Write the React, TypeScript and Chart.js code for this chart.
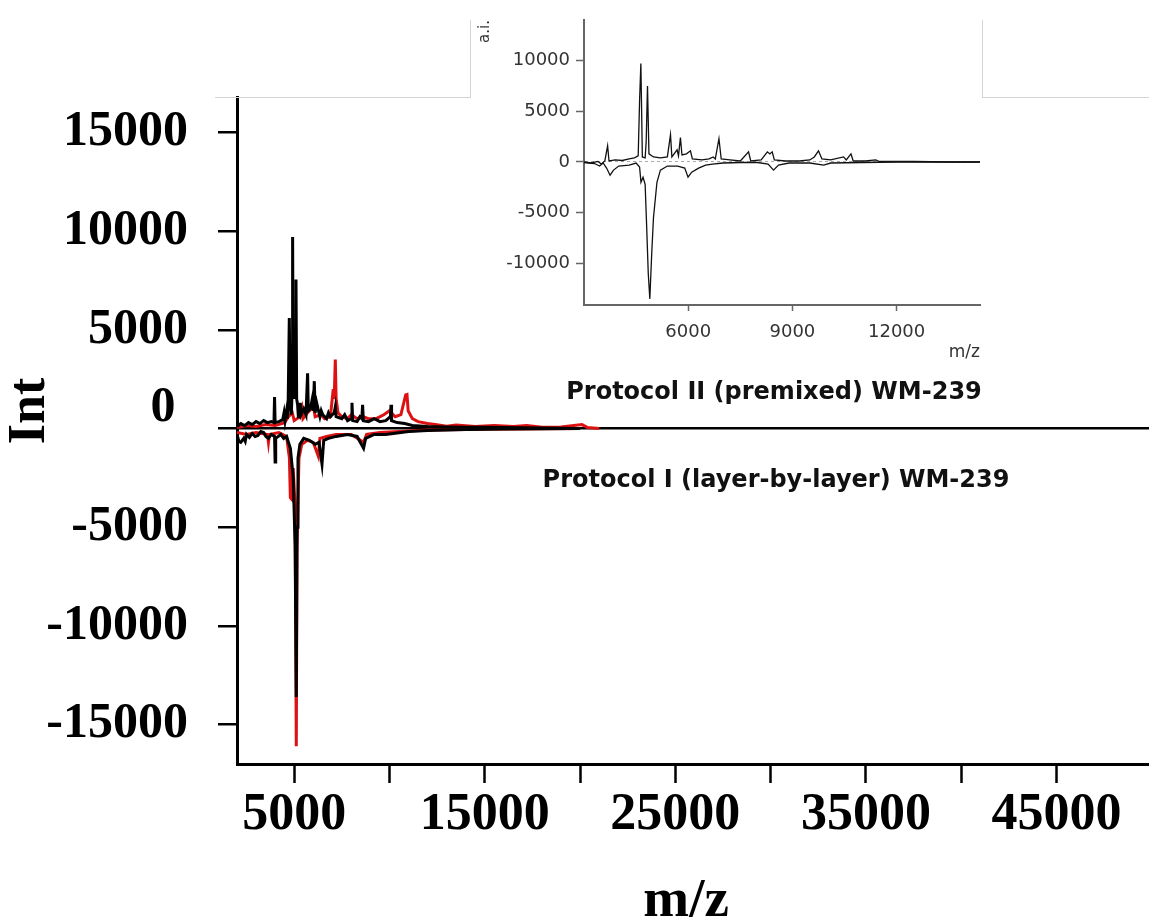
import React, { useEffect, useRef } from 'react';
import { Chart, registerables } from 'chart.js';

Chart.register(...registerables);

// ---------- tick values ----------
const mainYTicks = [-15000, -10000, -5000, 0, 5000, 10000, 15000];
const mainXTicks = [5000, 10000, 15000, 20000, 25000, 30000, 35000, 40000, 45000];
const mainXLabels = [5000, 15000, 25000, 35000, 45000];
const insetYTicks = [-10000, -5000, 0, 5000, 10000];
const insetXTicks = [6000, 9000, 12000];

// ---------- main spectra: [m/z, intensity] ----------
const blackII: [number, number][] = [
  [2000, 100], [2200, 250], [2400, 150], [2600, 300], [2800, 200], [3000, 350], [3200, 250], [3400, 400],
  [3600, 300], [3800, 350], [3940, 300], [3970, 1600], [4000, 300], [4200, 350], [4400, 450], [4470, 800],
  [4520, 400], [4600, 900], [4640, 500], [4680, 1000], [4744, 5600], [4790, 1500], [4850, 700], [4895, 2000],
  [4918, 9700], [4945, 3000], [5000, 1500], [5060, 2000], [5095, 7550], [5130, 1500], [5180, 1200], [5220, 600],
  [5250, 800], [5320, 1300], [5360, 700], [5400, 700], [5500, 1000], [5620, 700], [5704, 2800], [5740, 900],
  [5850, 1000], [5950, 1500], [6000, 900], [6056, 2400], [6100, 800], [6180, 1300], [6250, 1000], [6350, 600],
  [6420, 900], [6500, 700], [6700, 500], [6800, 800], [6900, 600], [7100, 800], [7158, 1100], [7200, 600],
  [7500, 500], [7650, 700], [7800, 400], [8000, 500], [8033, 1300], [8070, 400], [8300, 350], [8450, 600],
  [8550, 500], [8590, 1200], [8630, 400], [8900, 350], [9200, 500], [9500, 350], [9800, 400], [10050, 600],
  [10080, 1200], [10110, 400], [10400, 300], [10800, 250], [11200, 150], [12000, 100], [13000, 80], [14000, 60],
  [15000, 60], [16000, 50], [17000, 40], [18000, 30], [20000, 0],
];

const redII: [number, number][] = [
  [2000, 50], [2500, 150], [3000, 100], [3500, 200], [4000, 150], [4500, 300], [4700, 600], [4900, 800],
  [5000, 400], [5300, 600], [5410, 1000], [5460, 500], [5700, 800], [5900, 1000], [6000, 1200], [6100, 600],
  [6400, 700], [6600, 500], [6900, 600], [7050, 2000], [7100, 1500], [7158, 3500], [7200, 1500], [7300, 800],
  [7500, 600], [7800, 500], [8000, 700], [8300, 500], [8600, 600], [8900, 500], [9300, 500], [9700, 700],
  [10000, 900], [10300, 600], [10600, 700], [10850, 1700], [10919, 1720], [10980, 900], [11200, 500], [11500, 350],
  [12000, 250], [12400, 200], [13000, 120], [13500, 180], [14500, 100], [15500, 150], [16500, 100], [17200, 150],
  [18000, 60], [19000, 80], [20100, 200], [20400, 50], [21000, 0],
];

const blackI: [number, number][] = [
  [2000, -300], [2100, -650], [2200, -700], [2350, -500], [2430, -650], [2500, -300], [2650, -450], [2800, -250],
  [2950, -400], [3100, -350], [3250, -150], [3400, -200], [3520, -400], [3650, -500], [3800, -300], [3970, -400],
  [4000, -1700], [4030, -500], [4300, -300], [4450, -500], [4600, -400], [4800, -1000], [4950, -2500], [5050, -6000],
  [5110, -13600], [5150, -5000], [5200, -1500], [5300, -800], [5500, -500], [5800, -600], [6100, -800], [6300, -700],
  [6460, -1800], [6550, -600], [6800, -500], [7200, -400], [7800, -300], [8300, -400], [8640, -1000], [8750, -500],
  [9200, -300], [9800, -300], [10200, -250], [11000, -150], [12000, -100], [14000, -50], [16000, -30], [20000, 0],
];

const redI: [number, number][] = [
  [2000, -200], [2500, -300], [3000, -200], [3600, -300], [3650, -700], [3700, -300], [4200, -200], [4600, -400],
  [4750, -1500], [4800, -3500], [4885, -3600], [4950, -2000], [5050, -4000], [5110, -16100], [5150, -6000], [5250, -1500],
  [5400, -800], [5700, -600], [6000, -700], [6265, -1400], [6350, -500], [6700, -400], [7200, -300], [8000, -300],
  [8640, -700], [8800, -300], [9500, -200], [10500, -150], [12000, -80], [15000, -40], [20000, 0],
];

// ---------- inset spectra ----------
const insetII: [number, number][] = [
  [3000, 0], [3200, -100], [3400, 50], [3500, -200], [3600, 100], [3680, 1600], [3720, 100], [3900, 200],
  [4100, 150], [4300, 300], [4450, 400], [4560, 600], [4600, 6000], [4637, 9700], [4680, 500], [4760, 400],
  [4790, 2000], [4828, 7500], [4870, 800], [5000, 500], [5200, 400], [5400, 500], [5490, 2700], [5530, 500],
  [5680, 1200], [5720, 600], [5776, 2400], [5820, 700], [5950, 800], [6064, 1100], [6120, 300], [6400, 200],
  [6600, 300], [6720, 500], [6780, 300], [6885, 2300], [6950, 300], [7200, 200], [7500, 100], [7737, 1000],
  [7800, 100], [8100, 200], [8280, 1000], [8350, 800], [8418, 1000], [8480, 200], [8800, 100], [9200, 100],
  [9500, 200], [9630, 500], [9750, 1100], [9850, 300], [10100, 200], [10473, 500], [10550, 200], [10686, 800],
  [10750, 100], [11100, 100], [11400, 200], [11500, 50], [12500, 50], [13500, 0], [14400, 0],
];

const insetI: [number, number][] = [
  [3000, -50], [3300, -150], [3450, -400], [3550, -100], [3650, -600], [3750, -1300], [3850, -800], [4000, -400],
  [4300, -300], [4500, -100], [4600, -500], [4640, -2000], [4700, -1500], [4760, -2200], [4800, -6000], [4850, -11000],
  [4895, -13500], [4950, -9000], [5000, -5500], [5100, -2000], [5200, -800], [5400, -400], [5700, -400], [5900, -600],
  [5995, -1500], [6100, -1000], [6300, -600], [6500, -300], [6700, -200], [7000, -100], [7500, -50], [8000, -50],
  [8300, -200], [8455, -800], [8600, -300], [8900, -100], [9500, -100], [9900, -300], [10100, -100], [11000, -50],
  [12000, 0], [14400, 0],
];

const SERIF = '"Liberation Serif", "Times New Roman", serif';
const SANS = '"DejaVu Sans", "Liberation Sans", sans-serif';

const toPts = (arr: [number, number][]) => arr.map(([x, y]) => ({ x, y }));

function MainChart() {
  const ref = useRef<HTMLCanvasElement | null>(null);
  useEffect(() => {
    if (!ref.current) return;
    const chart = new Chart(ref.current, {
      type: 'line',
      data: {
        datasets: [
          { data: toPts(blackII), borderColor: '#000', borderWidth: 3 },
          { data: toPts(blackI), borderColor: '#000', borderWidth: 3 },
          { data: toPts(redII), borderColor: '#dd1111', borderWidth: 3 },
          { data: toPts(redI), borderColor: '#dd1111', borderWidth: 3 },
        ],
      },
      options: {
        animation: false,
        responsive: false,
        maintainAspectRatio: false,
        layout: { padding: { top: 97, left: 0, right: 0, bottom: 0 } },
        plugins: { legend: { display: false }, tooltip: { enabled: false } },
        elements: { point: { radius: 0 }, line: { tension: 0 } },
        scales: {
          x: {
            type: 'linear',
            min: 2000,
            max: 49850,
            afterBuildTicks: (s: any) => {
              s.ticks = mainXTicks.map((v) => ({ value: v }));
            },
            afterFit: (s: any) => {
              s.height = 158;
            },
            ticks: {
              autoSkip: false,
              maxRotation: 0,
              minRotation: 0,
              padding: 7,
              color: '#000',
              font: { family: SERIF, size: 52, weight: 'bold', lineHeight: 1 },
              callback: (v: any) => (mainXLabels.includes(Number(v)) ? String(v) : ''),
            },
            grid: { drawOnChartArea: false, drawTicks: true, tickLength: 19, tickColor: '#000', tickWidth: 2.5 },
            border: { display: true, color: '#000', width: 3 },
            title: {
              display: true,
              text: 'm/z ',
              color: '#000',
              font: { family: SERIF, size: 55, weight: 'bold', lineHeight: 0.7 },
              padding: { top: 0, bottom: 1 },
            },
          },
          y: {
            type: 'linear',
            min: -17000,
            max: 16800,
            afterBuildTicks: (s: any) => {
              s.ticks = mainYTicks.map((v) => ({ value: v }));
            },
            afterFit: (s: any) => {
              s.width = 237;
            },
            ticks: {
              padding: 30,
              color: '#000',
              font: (ctx: any) =>
                ctx.tick && ctx.tick.value === 0
                  ? { family: SERIF, size: 50, weight: 'bold', lineHeight: 0.8 }
                  : { family: SERIF, size: 50, weight: 'bold', lineHeight: 1.2 },
              callback: (v: any) => (Number(v) === 0 ? ['0 ', ''] : String(v)),
            },
            grid: {
              drawOnChartArea: true,
              color: (ctx: any) => (ctx.tick && ctx.tick.value === 0 ? '#000' : 'rgba(0,0,0,0)'),
              lineWidth: 2.5,
              tickLength: 19,
              tickColor: '#000',
              tickWidth: 2.5,
            },
            border: { display: true, color: '#000', width: 3 },
            title: {
              display: true,
              text: '   Int',
              color: '#000',
              font: { family: SERIF, size: 52, weight: 'bold', lineHeight: 1 },
              padding: { top: 5, bottom: 0 },
            },
          },
        },
      } as any,
    });
    return () => chart.destroy();
  }, []);
  return (
    <canvas
      ref={ref}
      width={1149}
      height={922}
      style={{ position: 'absolute', left: 0, top: 0, width: 1149, height: 922, display: 'block' }}
    />
  );
}

function InsetChart() {
  const ref = useRef<HTMLCanvasElement | null>(null);
  useEffect(() => {
    if (!ref.current) return;
    const chart = new Chart(ref.current, {
      type: 'line',
      data: {
        datasets: [
          { data: toPts(insetII), borderColor: '#111', borderWidth: 1.3 },
          { data: toPts(insetI), borderColor: '#111', borderWidth: 1.3 },
        ],
      },
      options: {
        animation: false,
        responsive: false,
        maintainAspectRatio: false,
        layout: { padding: { top: 20, left: 0, right: 2, bottom: 0 } },
        plugins: { legend: { display: false }, tooltip: { enabled: false } },
        elements: { point: { radius: 0 }, line: { tension: 0 } },
        scales: {
          x: {
            type: 'linear',
            min: 3000,
            max: 14400,
            afterBuildTicks: (s: any) => {
              s.ticks = insetXTicks.map((v) => ({ value: v }));
            },
            afterFit: (s: any) => {
              s.height = 60;
            },
            ticks: {
              autoSkip: false,
              maxRotation: 0,
              minRotation: 0,
              padding: 11,
              color: '#333',
              font: { family: SANS, size: 18, lineHeight: 1.2 },
              callback: (v: any) => String(v),
            },
            grid: { drawOnChartArea: false, tickLength: 6, tickColor: '#666', tickWidth: 1.5 },
            border: { display: true, color: '#666', width: 2 },
            title: {
              display: true,
              text: 'm/z',
              align: 'end',
              color: '#333',
              font: { family: SANS, size: 17, lineHeight: 1 },
              padding: { top: 0, bottom: 3.5 },
            },
          },
          y: {
            type: 'linear',
            min: -14100,
            max: 14000,
            afterBuildTicks: (s: any) => {
              s.ticks = insetYTicks.map((v) => ({ value: v }));
            },
            afterFit: (s: any) => {
              s.width = 114;
            },
            ticks: {
              padding: 6,
              color: '#333',
              font: { family: SANS, size: 18, lineHeight: 1.2 },
              callback: (v: any) => String(v),
            },
            grid: {
              drawOnChartArea: true,
              color: (ctx: any) => (ctx.tick && ctx.tick.value === 0 ? '#aaa' : 'rgba(0,0,0,0)'),
              lineWidth: 1,
              tickLength: 8,
              tickColor: '#666',
              tickWidth: 1.5,
            },
            border: { display: true, color: '#666', width: 2, dash: [3, 3] },
            title: {
              display: true,
              text: 'a.i.',
              align: 'end',
              color: '#333',
              font: { family: SANS, size: 15, lineHeight: 1 },
              padding: { top: 8, bottom: 0 },
            },
          },
        },
      } as any,
    });
    return () => chart.destroy();
  }, []);
  return (
    <canvas
      ref={ref}
      width={512}
      height={365}
      style={{ position: 'absolute', left: 470, top: 0, width: 512, height: 365, display: 'block' }}
    />
  );
}

const lineStyle = (left: number, top: number, width: number, height: number): React.CSSProperties => ({
  position: 'absolute',
  left,
  top,
  width,
  height,
  background: '#d4d4d4',
});

const noteStyle = (cx: number, top: number): React.CSSProperties => ({
  position: 'absolute',
  left: cx - 300,
  top,
  width: 600,
  textAlign: 'center',
  fontFamily: SANS,
  fontWeight: 'bold',
  fontSize: 24,
  lineHeight: '24px',
  color: '#111',
  whiteSpace: 'nowrap',
});

export default function App() {
  return (
    <div
      style={{
        position: 'fixed',
        left: 0,
        top: 0,
        width: 1149,
        height: 922,
        background: '#fff',
        overflow: 'hidden',
      }}
    >
      <MainChart />
      <InsetChart />
      <div style={lineStyle(215, 97, 255, 1)} />
      <div style={lineStyle(470, 20, 1, 78)} />
      <div style={lineStyle(982, 20, 1, 78)} />
      <div style={lineStyle(982, 97, 167, 1)} />
      <div style={noteStyle(774, 378.5)}>Protocol II (premixed) WM-239</div>
      <div style={noteStyle(776, 466.5)}>Protocol I (layer-by-layer) WM-239</div>
    </div>
  );
}
